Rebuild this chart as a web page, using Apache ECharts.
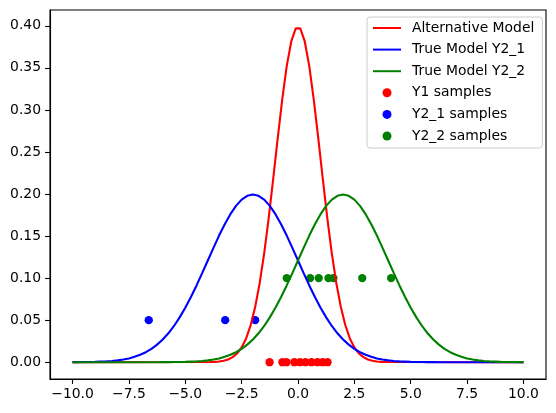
<!DOCTYPE html>
<html>
<head>
<meta charset="utf-8">
<script src="https://cdn.jsdelivr.net/npm/echarts@6/dist/echarts.min.js"></script>
<style>
  html, body { margin: 0; padding: 0; background: #fff; }
  #chart { width: 556px; height: 413px; }
</style>
</head>
<body>
<div id="chart"></div>
<script>
// Alternative Model curve (red)
const altX = [-10, -3.9, -3.7, -3.5, -3.3, -3.1, -2.9, -2.7, -2.5, -2.3, -2.1, -1.9, -1.7, -1.5, -1.3, -1.1, -0.9, -0.7, -0.5, -0.3, -0.1,
  0.1, 0.3, 0.5, 0.7, 0.9, 1.1, 1.3, 1.5, 1.7, 1.9, 2.1, 2.3, 2.5, 2.7, 2.9, 3.1, 3.3, 3.5, 3.7, 3.9, 10]
const altY = [0, 0.0002, 0.0004, 0.0009, 0.0017, 0.0033, 0.0060, 0.0104, 0.0175, 0.0283, 0.0440, 0.0656, 0.0940, 0.1295, 0.1714, 0.2179, 0.2661, 0.3123, 0.3521, 0.3814, 0.3970,
  0.3970, 0.3814, 0.3521, 0.3123, 0.2661, 0.2179, 0.1714, 0.1295, 0.0940, 0.0656, 0.0440, 0.0283, 0.0175, 0.0104, 0.0060, 0.0033, 0.0017, 0.0009, 0.0004, 0.0002, 0]

// True model curves (blue and green)
const trueX = [-10, -9.5, -9,
  -8.5, -8.25, -8, -7.75, -7.5, -7.25, -7, -6.75, -6.5, -6.25, -6, -5.75, -5.5, -5.25, -5, -4.75, -4.5, -4.25, -4, -3.75, -3.5, -3.25, -3, -2.75, -2.5, -2.25,
  -2, -1.75, -1.5, -1.25, -1, -0.75, -0.5, -0.25, 0, 0.25, 0.5, 0.75, 1, 1.25, 1.5, 1.75, 2, 2.25, 2.5, 2.75, 3, 3.25, 3.5, 3.75,
  4, 4.25, 4.5, 4.75, 5, 5.25, 5.5, 5.75, 6, 6.25, 6.5, 6.75, 7, 7.25, 7.5, 7.75, 8, 8.25, 8.5,
  9, 9.5, 10]
const trueY1 = [0.0001, 0.0002, 0.0004,
  0.0010, 0.0015, 0.0022, 0.0032, 0.0045, 0.0064, 0.0088, 0.0119, 0.0159, 0.0209, 0.0270, 0.0344, 0.0431, 0.0533, 0.0648, 0.0775, 0.0913, 0.1059, 0.1210, 0.1360, 0.1506, 0.1641, 0.1760, 0.1859, 0.1933, 0.1979,
  0.1995, 0.1979, 0.1933, 0.1859, 0.1760, 0.1641, 0.1506, 0.1360, 0.1210, 0.1059, 0.0913, 0.0775, 0.0648, 0.0533, 0.0431, 0.0344, 0.0270, 0.0209, 0.0159, 0.0119, 0.0088, 0.0064, 0.0045, 0.0032,
  0.0022, 0.0015, 0.0010, 0.0007, 0.0004, 0.0003, 0.0002, 0.0001, 0.0001, 0, 0, 0, 0, 0, 0, 0, 0, 0, 0,
  0, 0, 0]
const trueY2 = [0, 0, 0,
  0, 0, 0, 0, 0, 0, 0, 0, 0, 0, 0.0001, 0.0001, 0.0002, 0.0003, 0.0004, 0.0007, 0.0010, 0.0015, 0.0022, 0.0032, 0.0045, 0.0064, 0.0088, 0.0119, 0.0159, 0.0209,
  0.0270, 0.0344, 0.0431, 0.0533, 0.0648, 0.0775, 0.0913, 0.1059, 0.1210, 0.1360, 0.1506, 0.1641, 0.1760, 0.1859, 0.1933, 0.1979, 0.1995, 0.1979, 0.1933, 0.1859, 0.1760, 0.1641, 0.1506, 0.1360,
  0.1210, 0.1059, 0.0913, 0.0775, 0.0648, 0.0533, 0.0431, 0.0344, 0.0270, 0.0209, 0.0159, 0.0119, 0.0088, 0.0064, 0.0045, 0.0032, 0.0022, 0.0015, 0.0010,
  0.0004, 0.0002, 0.0001]

// samples
const y1Samples = [-1.26, -0.69, -0.51, -0.16, 0.09, 0.33, 0.60, 0.86, 1.09, 1.31]
const y1Level = 0
const y21Samples = [-6.62, -3.23, -1.90]
const y21Level = 0.05
const y22Samples = [-0.50, 0.54, 0.92, 1.35, 1.57, 2.85, 4.13]
const y22Level = 0.1

// tick labels
const xTicks = [-10, -7.5, -5, -2.5, 0, 2.5, 5, 7.5, 10]
const yTicks = [0, 0.05, 0.1, 0.15, 0.2, 0.25, 0.3, 0.35, 0.4]

function zip(xs, ys) {
    let out = []
    for (let i in xs) out.push([xs[i], ys[i]])
    return out
}
function atLevel(xs, level) {
    return xs.map(x => [x, level])
}
function fmt(v, d) {
    return v.toFixed(d).replace('-', '\u2212')
}

const font = 'DejaVu Sans'
const fs = 13.9
// line entries in the legend show only the line, no marker
const noMarker = { opacity: 0 }

var chart = echarts.init(document.getElementById('chart'))
chart.setOption({
    animation: false,
    textStyle: { fontFamily: font },
    grid: {
        left: 50, right: 10, top: 10, bottom: 34,
        show: true, borderColor: '#000', borderWidth: 1.1
    },
    legend: {
        orient: 'vertical',
        left: 367, top: 17,
        padding: [4, 8, 5, 5],
        itemWidth: 28, itemHeight: 9, itemGap: 7.6,
        backgroundColor: 'rgba(255,255,255,0.8)',
        borderColor: '#cccccc', borderWidth: 1, borderRadius: 3,
        textStyle: { fontFamily: font, fontSize: fs, color: '#000', lineHeight: 14, padding: [0, 0, 0, 6] },
        data: [
            { name: 'Alternative Model', itemStyle: noMarker },
            { name: 'True Model Y2_1', itemStyle: noMarker },
            { name: 'True Model Y2_2', itemStyle: noMarker },
            'Y1 samples', 'Y2_1 samples', 'Y2_2 samples'
        ]
    },
    xAxis: {
        type: 'value', min: -11, max: 11,
        splitLine: { show: false },
        axisLine: { onZero: false, lineStyle: { color: '#000', width: 1.1 } },
        axisTick: { customValues: xTicks, length: 4.9, lineStyle: { color: '#000', width: 1.1 } },
        axisLabel: { customValues: xTicks, margin: 8, color: '#000', fontFamily: font, fontSize: fs, formatter: v => fmt(v, 1) }
    },
    yAxis: {
        type: 'value', min: -0.01995, max: 0.4188,
        splitLine: { show: false },
        axisLine: { show: true, onZero: false, lineStyle: { color: '#000', width: 1.1 } },
        axisTick: { show: true, customValues: yTicks, length: 4.9, lineStyle: { color: '#000', width: 1.1 } },
        axisLabel: { customValues: yTicks, margin: 9, color: '#000', fontFamily: font, fontSize: fs, formatter: v => fmt(v, 2) }
    },
    series: [
        { name: 'Y1 samples', type: 'scatter', z: 1, symbolSize: 8.3, itemStyle: { color: '#ff0000', opacity: 1 }, data: atLevel(y1Samples, y1Level) },
        { name: 'Y2_1 samples', type: 'scatter', z: 1, symbolSize: 8.3, itemStyle: { color: '#0000ff', opacity: 1 }, data: atLevel(y21Samples, y21Level) },
        { name: 'Y2_2 samples', type: 'scatter', z: 1, symbolSize: 8.3, itemStyle: { color: '#008000', opacity: 1 }, data: atLevel(y22Samples, y22Level) },
        { name: 'Alternative Model', type: 'line', z: 2, symbol: 'none', color: '#ff0000', lineStyle: { color: '#ff0000', width: 2.1 }, data: zip(altX, altY) },
        { name: 'True Model Y2_1', type: 'line', z: 2, symbol: 'none', color: '#0000ff', lineStyle: { color: '#0000ff', width: 2.1 }, data: zip(trueX, trueY1) },
        { name: 'True Model Y2_2', type: 'line', z: 2, symbol: 'none', color: '#008000', lineStyle: { color: '#008000', width: 2.1 }, data: zip(trueX, trueY2) }
    ]
})
</script>
</body>
</html>
